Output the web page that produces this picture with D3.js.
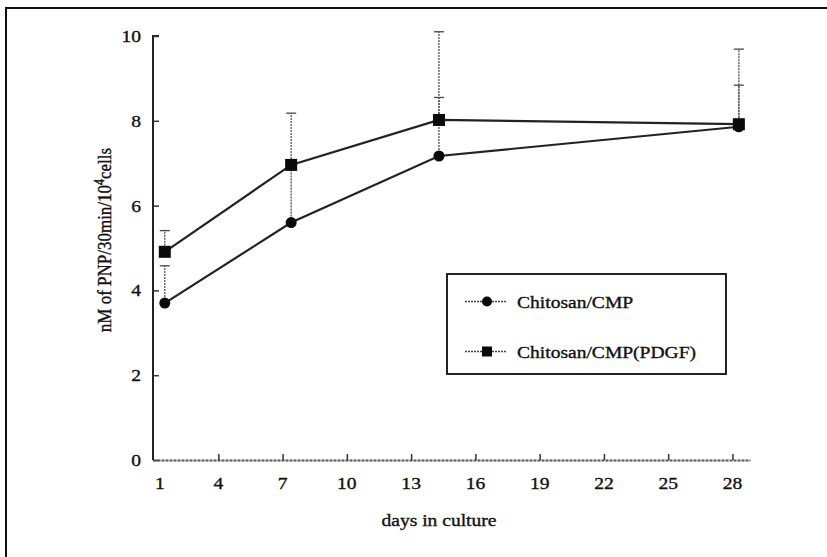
<!DOCTYPE html>
<html>
<head>
<meta charset="utf-8">
<script src="https://cdn.jsdelivr.net/npm/d3@7"></script>
<style>
  body { margin: 0; background: #fff; }
  text { font-family: "Liberation Serif", "Times New Roman", serif; fill: #111; stroke: #111; stroke-width: 0.35px; }
</style>
</head>
<body>
<div id="chart"></div>
<script>
// data
const days = [1.5, 7.4, 14.3, 28.3];
const chitosanCMP = [3.70, 5.60, 7.17, 7.86];
const chitosanCMPErr = [4.58, 6.95, 8.55, 8.84];   // top of error bar
const chitosanPDGF = [4.91, 6.96, 8.02, 7.92];
const chitosanPDGFErr = [5.41, 8.18, 10.10, 9.69];
const xTicks = [1, 4, 7, 10, 13, 16, 19, 22, 25, 28];
const yTicks = [0, 2, 4, 6, 8, 10];
const seriesNames = ["Chitosan/CMP", "Chitosan/CMP(PDGF)"];

const W = 827, H = 557;
const sx = 1.15; // the picture is stretched sideways, so is its text
const fs = "17px";

const svg = d3.select("#chart")
    .append("svg")
    .attr("width", W)
    .attr("height", H);

// frame (top and left only)
svg.append("path")
    .attr("d", `M6,${H} V8 H${W}`)
    .attr("fill", "none")
    .attr("stroke", "#111")
    .attr("stroke-width", 2);

const x = d3.scaleLinear().domain([0.95, 28.82]).range([153, 750]);
const y = d3.scaleLinear().domain([0, 10]).range([460, 36]);

// axes
const yAxis = svg.append("g")
    .attr("transform", "translate(153,0)")
    .call(d3.axisRight(y).tickValues(yTicks).tickSize(6).tickFormat(""));
yAxis.select(".domain").attr("stroke", "#222").attr("stroke-width", 2).attr("d", `M6,${y(10)}H0V${y(0)}`);
yAxis.selectAll(".tick line").attr("stroke", "#333").attr("stroke-width", 1.5);

const xAxis = svg.append("g")
    .attr("transform", "translate(0,460)")
    .call(d3.axisTop(x).tickValues(xTicks.filter(d => d > 1)).tickSize(6).tickFormat("").tickSizeOuter(0));
xAxis.select(".domain").attr("stroke", "#555").attr("stroke-width", 2).attr("stroke-dasharray", "3,1");
xAxis.selectAll(".tick line").attr("stroke", "#333").attr("stroke-width", 1.5);

// tick labels
svg.selectAll(".ylab")
    .data(yTicks)
    .enter()
    .append("text")
    .attr("class", "ylab")
    .attr("transform", d => `translate(141,${y(d) + 6}) scale(${sx},1)`)
    .attr("text-anchor", "end")
    .style("font-size", fs)
    .text(d => d);

svg.selectAll(".xlab")
    .data(xTicks)
    .enter()
    .append("text")
    .attr("class", "xlab")
    .attr("transform", d => `translate(${d === 1 ? 160 : x(d)},489) scale(${sx},1)`)
    .attr("text-anchor", "middle")
    .style("font-size", fs)
    .text(d => d);

svg.append("text")
    .attr("transform", `translate(439,526) scale(${sx},1)`)
    .attr("text-anchor", "middle")
    .style("font-size", fs)
    .text("days in culture");

const ylabel = svg.append("text")
    .attr("transform", `translate(111,240) rotate(-90) scale(1,${sx})`)
    .attr("text-anchor", "middle")
    .style("font-size", fs);
ylabel.append("tspan").text("nM of PNP/30min/10");
ylabel.append("tspan").attr("dy", -6).style("font-size", "12px").text("4");
ylabel.append("tspan").attr("dy", 6).text("cells");

// error bars (upward only)
function errorBars(vals, tops) {
    const g = svg.append("g");
    days.forEach((d, i) => {
        g.append("line")
            .attr("x1", x(d)).attr("x2", x(d))
            .attr("y1", y(vals[i])).attr("y2", y(tops[i]))
            .attr("stroke", "#555").attr("stroke-width", 1.3)
            .attr("stroke-dasharray", "2,1");
        g.append("line")
            .attr("x1", x(d) - 5).attr("x2", x(d) + 5)
            .attr("y1", y(tops[i])).attr("y2", y(tops[i]))
            .attr("stroke", "#444").attr("stroke-width", 1.3);
    });
}
errorBars(chitosanCMP, chitosanCMPErr);
errorBars(chitosanPDGF, chitosanPDGFErr);

const line = d3.line()
    .x((d, i) => x(days[i]))
    .y(d => y(d));

[chitosanCMP, chitosanPDGF].forEach(vals => {
    svg.append("path")
        .datum(vals)
        .attr("fill", "none")
        .attr("stroke", "#222")
        .attr("stroke-width", 2.2)
        .attr("d", line);
});

// markers
svg.selectAll(".dotc")
    .data(chitosanCMP)
    .enter()
    .append("circle")
    .attr("cx", (d, i) => x(days[i]))
    .attr("cy", d => y(d))
    .attr("r", 5.5)
    .attr("fill", "#0a0a0a");

svg.selectAll(".sq")
    .data(chitosanPDGF)
    .enter()
    .append("rect")
    .attr("x", (d, i) => x(days[i]) - 6)
    .attr("y", d => y(d) - 6)
    .attr("width", 12)
    .attr("height", 12)
    .attr("fill", "#0a0a0a");

// legend
const legend = svg.append("g");
legend.append("rect")
    .attr("x", 447).attr("y", 274)
    .attr("width", 279).attr("height", 100)
    .attr("fill", "#fff")
    .attr("stroke", "#222")
    .attr("stroke-width", 2);

seriesNames.forEach((name, i) => {
    const ly = 301.5 + i * 50;
    legend.append("line")
        .attr("x1", 465).attr("x2", 507)
        .attr("y1", ly).attr("y2", ly)
        .attr("stroke", "#444").attr("stroke-width", 1.3)
        .attr("stroke-dasharray", "2,1");
    if (i === 0) {
        legend.append("circle").attr("cx", 487).attr("cy", ly).attr("r", 5).attr("fill", "#0a0a0a");
    } else {
        legend.append("rect").attr("x", 482).attr("y", ly - 5).attr("width", 10).attr("height", 10).attr("fill", "#0a0a0a");
    }
    legend.append("text")
        .attr("transform", `translate(517,${ly + 6}) scale(${sx},1)`)
        .style("font-size", fs)
        .text(name);
});
</script>
</body>
</html>
